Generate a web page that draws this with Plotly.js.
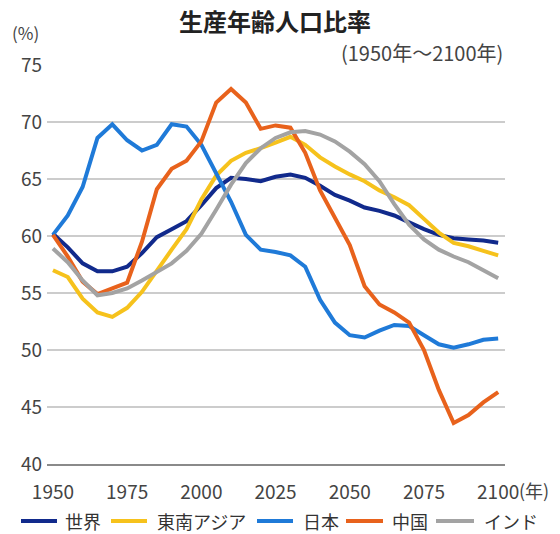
<!DOCTYPE html>
<html>
<head>
<meta charset="utf-8">
<script src="https://cdn.plot.ly/plotly-3.0.1.min.js"></script>
<style>html,body{margin:0;padding:0;background:#fff;}#chart{width:560px;height:534px;}</style>
</head>
<body>
<div id="chart"></div>
<script>
const years = [1950,1955,1960,1965,1970,1975,1980,1985,1990,1995,2000,2005,2010,2015,2020,2025,2030,2035,2040,2045,2050,2055,2060,2065,2070,2075,2080,2085,2090,2095,2100];
const seriesNames = ["世界","東南アジア","日本","中国","インド"];
const world =  [60.2,59.0,57.6,56.9,56.9,57.3,58.5,59.9,60.6,61.3,62.7,64.2,65.1,65.0,64.8,65.2,65.4,65.1,64.4,63.6,63.1,62.5,62.2,61.8,61.2,60.6,60.1,59.8,59.7,59.6,59.4];
const seAsia = [57.0,56.4,54.5,53.3,52.9,53.7,55.1,57.0,58.8,60.6,63.2,65.3,66.6,67.3,67.7,68.2,68.7,68.0,66.9,66.1,65.4,64.8,64.0,63.4,62.7,61.5,60.3,59.4,59.1,58.7,58.3];
const japan =  [60.1,61.8,64.3,68.6,69.8,68.4,67.5,68.0,69.8,69.6,68.0,65.5,63.0,60.1,58.8,58.6,58.3,57.3,54.4,52.4,51.3,51.1,51.7,52.2,52.1,51.3,50.5,50.2,50.5,50.9,51.0];
const china =  [60.1,58.2,56.0,54.9,55.4,55.9,59.5,64.1,65.9,66.6,68.3,71.7,72.9,71.7,69.4,69.7,69.5,67.3,64.0,61.6,59.2,55.6,54.0,53.3,52.4,50.0,46.5,43.6,44.3,45.4,46.3];
const india =  [58.9,57.7,56.1,54.8,55.0,55.4,56.1,56.9,57.6,58.7,60.2,62.3,64.5,66.4,67.7,68.6,69.1,69.2,68.9,68.3,67.4,66.3,64.8,62.8,61.0,59.7,58.8,58.2,57.7,57.0,56.3];
const colors = ["#112a8c","#f6c21c","#1f7ad8","#e8621c","#a3a3a3"];
const xTickVals = [1950,1975,2000,2025,2050,2075,2100];
const xTickText = ["1950","1975","2000","2025","2050","2075","2100"];
const yTickVals = [40,45,50,55,60,65,70,75];

const values = [world, seAsia, japan, china, india];
const font = "'Noto Sans CJK JP', 'Noto Sans', sans-serif";
const traces = values.map((v, i) => ({
  type: "scatter", mode: "lines", x: years, y: v, name: seriesNames[i],
  line: {color: colors[i], width: 4}, showlegend: false
}));

// plot box in pixels (for placing the hand-built legend)
const M = {l: 47, r: 55, t: 65, b: 70};
const W = 560, H = 534;
const pw = W - M.l - M.r, ph = H - M.t - M.b;
const px2x = p => (p - M.l) / pw;
const px2y = p => (H - M.b - p) / ph;

// legend layout: [line start, line end, text start] in px
const legendPos = [[21, 57, 63], [111, 147, 155], [257, 293, 301], [346, 383, 390], [436, 474, 482]];
const legendY = 521;
const shapes = legendPos.map((p, i) => ({
  type: "line", xref: "paper", yref: "paper", x0: px2x(p[0]), x1: px2x(p[1]),
  y0: px2y(legendY), y1: px2y(legendY), line: {color: colors[i], width: 4}
}));
const legendText = legendPos.map((p, i) => ({
  text: seriesNames[i], xref: "paper", yref: "paper", x: px2x(p[2]), y: px2y(legendY),
  xanchor: "left", yanchor: "middle", showarrow: false, font: {size: 18, color: "#333"}
}));

const layout = {
  width: W, height: H,
  paper_bgcolor: "#ffffff", plot_bgcolor: "#ffffff",
  margin: M,
  font: {family: font, color: "#444"},
  title: {text: "<b>生産年齢人口比率</b>", x: 0.491, xref: "container", xanchor: "center",
          y: 0.958, yref: "container", yanchor: "middle", font: {size: 24, color: "#222", family: font}},
  xaxis: {range: [1948, 2102.3], tickvals: xTickVals, ticktext: xTickText, showgrid: false,
          zeroline: false, showline: true, linecolor: "#8a8a8a", linewidth: 2, ticks: "",
          ticklabelstandoff: 10, tickfont: {size: 19, color: "#444"}},
  yaxis: {range: [40, 75], tickvals: yTickVals, showgrid: true, gridcolor: "#cccccc", gridwidth: 2,
          zeroline: false, showline: false, ticks: "", ticklabelstandoff: 4, tickfont: {size: 19, color: "#444"}},
  showlegend: false,
  shapes: shapes,
  annotations: [
    {text: "(%)", xref: "paper", yref: "paper", x: 0, y: 1, xshift: -37, yshift: 33, showarrow: false,
     xanchor: "left", yanchor: "middle", font: {size: 17, color: "#444"}},
    {text: "(1950年～2100年)", xref: "paper", yref: "paper", x: 1, y: 1, yshift: 13, showarrow: false,
     xanchor: "right", yanchor: "middle", font: {size: 20, color: "#444"}},
    {text: "(年)", xref: "paper", yref: "paper", x: 1, y: 0, xshift: 12, yshift: -26, showarrow: false,
     xanchor: "left", yanchor: "middle", font: {size: 18, color: "#444"}}
  ].concat(legendText)
};
Plotly.newPlot("chart", traces, layout, {displayModeBar: false, staticPlot: true});
</script>
</body>
</html>
